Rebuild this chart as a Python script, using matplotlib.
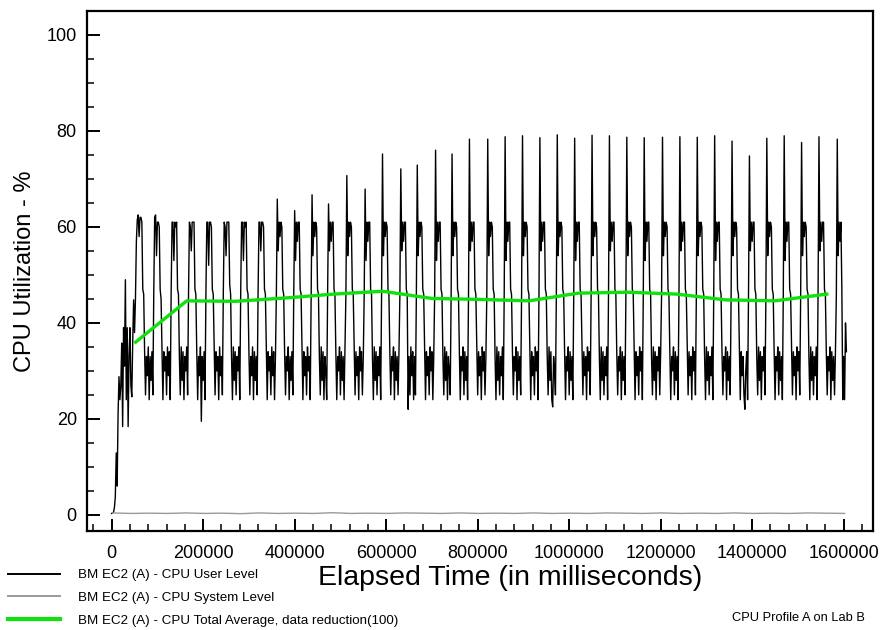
import numpy as np
import matplotlib
matplotlib.use("Agg")
import matplotlib.pyplot as plt
from matplotlib.ticker import MultipleLocator
from matplotlib import font_manager

_names = {f.name for f in font_manager.fontManager.ttflist}
plt.rcParams["font.family"] = [n for n in ["Liberation Sans Narrow", "Liberation Sans", "DejaVu Sans"] if n in _names]

# ---------------- data ----------------
sample_ms = 2000  # sampling interval of the CPU user level series

# CPU user level (%), one sample every 2 s, starting at t = 0 (one row per load cycle)
user_cpu = [
    0.3, 0.4, 0.5, 1.5, 3.8, 12.9, 6.0, 21.0, 28.8, 24.0, 27.0, 35.8, 18.4, 39.0,
    31.0, 49.0, 24.0, 39.0, 18.4, 33.0, 39.0, 27.0, 24.6, 36.0, 44.8, 38.0, 45.0, 57.0,
    61.5, 62.5, 58, 62, 62, 61, 47, 46, 34, 25, 33, 29, 35, 24, 33, 28, 34, 25, 46,
    62, 62.5, 54, 61, 61, 60, 47, 45, 35, 24, 34, 30, 33, 25, 35, 29, 34, 24, 46,
    61, 61, 53, 61, 60, 61, 47, 46, 33, 25, 35, 28, 34, 24, 33, 30, 35, 25, 46,
    61, 60, 55, 61, 61, 61, 47, 46, 34, 24, 33, 29, 35, 19.5, 33, 28, 34, 24, 46,
    61, 61, 52, 61, 61, 60, 47, 46, 35, 25, 34, 30, 33, 24, 35, 29, 33, 25, 46,
    61, 60, 54, 61, 61, 61, 48, 46, 33, 24, 35, 28, 34, 25, 33, 30, 35, 24, 46,
    61, 61, 53, 61, 60, 61, 47, 46, 34, 25, 33, 29, 35, 24, 34, 28, 33, 25, 46,
    61, 61, 55, 61, 61, 60, 47, 46, 35, 24, 34, 30, 33, 25, 35, 29, 34, 24, 33, 46,
    65.8, 55, 61, 58, 61, 60, 47, 46, 34, 25, 33, 30, 35, 24, 33, 28, 34, 25, 46,
    63.4, 53, 61, 57, 61, 61, 47, 46, 35, 24, 34, 29, 33, 25, 35, 30, 33, 24, 46,
    66.7, 54, 61, 58, 61, 60, 47, 46, 33, 25, 35, 28, 34, 24, 33, 30, 24, 46,
    64.8, 55, 61, 57, 61, 61, 47, 46, 34, 24, 33, 30, 35, 25, 34, 28, 33, 24, 35, 46,
    70.7, 54, 61, 58, 61, 60, 47, 46, 35, 25, 34, 29, 33, 24, 35, 30, 34, 25, 33, 46,
    67.9, 53, 61, 57, 61, 61, 47, 46, 33, 24, 35, 28, 34, 25, 33, 29, 35, 24, 46,
    75.2, 54, 61, 58, 61, 60, 47, 46, 34, 25, 33, 30, 35, 24, 34, 28, 33, 25, 34, 46,
    72.1, 55, 61, 57, 61, 61, 47, 46, 22, 33, 25, 35, 29, 34, 24, 33, 25, 46,
    72.9, 54, 61, 58, 61, 60, 47, 46, 35, 24, 34, 29, 33, 25, 35, 30, 34, 24, 33, 46,
    76.0, 53, 61, 57, 61, 61, 47, 46, 33, 25, 35, 28, 34, 24, 33, 30, 25, 46,
    75.2, 54, 61, 58, 61, 60, 47, 46, 34, 24, 33, 30, 35, 25, 34, 28, 33, 24, 46,
    78.3, 55, 61, 57, 61, 61, 47, 46, 35, 25, 34, 29, 33, 24, 35, 30, 34, 25, 33, 46,
    78.3, 54, 61, 58, 61, 60, 47, 46, 33, 24, 35, 28, 34, 25, 33, 29, 35, 24, 46,
    78.8, 53, 61, 57, 61, 61, 47, 46, 34, 25, 33, 30, 35, 24, 34, 28, 33, 25, 46,
    79.0, 54, 61, 58, 61, 60, 47, 46, 35, 24, 34, 29, 33, 25, 35, 30, 34, 24, 46,
    78.6, 55, 61, 57, 61, 61, 47, 46, 33, 25, 35, 28, 34, 24, 22.5, 33, 30, 25, 46,
    79.2, 54, 61, 58, 61, 60, 47, 46, 34, 24, 33, 30, 35, 25, 34, 28, 33, 24, 46,
    78.5, 53, 61, 57, 61, 61, 47, 46, 35, 25, 34, 29, 33, 24, 35, 30, 34, 25, 46,
    79.1, 54, 61, 58, 61, 60, 47, 46, 33, 24, 35, 28, 34, 25, 33, 29, 35, 24, 46,
    79.0, 55, 61, 57, 61, 61, 47, 46, 34, 25, 33, 30, 35, 24, 34, 28, 33, 25, 46,
    78.7, 54, 61, 58, 61, 60, 47, 46, 35, 24, 34, 29, 33, 25, 35, 30, 34, 24, 46,
    78.6, 53, 61, 57, 61, 61, 47, 46, 33, 25, 35, 28, 34, 24, 33, 30, 35, 25, 34, 46,
    78.7, 54, 61, 58, 61, 60, 47, 46, 34, 24, 33, 30, 35, 25, 34, 28, 33, 24, 46,
    78.8, 55, 61, 57, 61, 61, 47, 46, 35, 25, 34, 29, 33, 24, 35, 30, 34, 25, 46,
    78.7, 54, 61, 58, 61, 60, 47, 46, 33, 24, 35, 28, 34, 25, 33, 29, 35, 24, 46,
    79.0, 53, 61, 57, 61, 61, 47, 46, 34, 25, 33, 30, 35, 24, 34, 28, 33, 25, 46,
    77.9, 54, 61, 58, 61, 60, 47, 46, 35, 24, 34, 29, 33, 25, 22, 30, 34, 24, 46,
    74.8, 55, 61, 57, 61, 61, 47, 46, 33, 25, 35, 28, 34, 24, 33, 30, 35, 25, 46,
    78.5, 54, 61, 58, 61, 60, 47, 46, 34, 24, 33, 30, 35, 25, 34, 28, 33, 24, 46,
    79.0, 53, 61, 57, 61, 61, 47, 46, 35, 25, 34, 29, 33, 24, 35, 30, 34, 25, 46,
    77.6, 54, 61, 58, 61, 60, 47, 46, 33, 24, 35, 28, 34, 25, 33, 29, 35, 24, 46,
    78.8, 55, 61, 57, 61, 61, 47, 46, 34, 25, 33, 30, 35, 24, 34, 28, 33, 25, 34, 46,
    78.3, 54, 61, 57, 61, 47, 24, 33, 24, 40, 34,
]

# CPU system level (%), one value every 40 s
system_step_ms = 40000
system_cpu = [
    0.4, 0.3, 0.35, 0.3, 0.4, 0.3, 0.35, 0.25, 0.4, 0.3, 0.35, 0.3, 0.45, 0.3,
    0.35, 0.3, 0.4, 0.35, 0.3, 0.4, 0.3, 0.35, 0.3, 0.4, 0.3, 0.35, 0.3, 0.4,
    0.35, 0.3, 0.4, 0.3, 0.35, 0.3, 0.4, 0.3, 0.35, 0.3, 0.4, 0.35, 0.3,
]

# CPU total average (data reduction 100)
avg_time_ms = [52500, 164000, 270000, 380000, 485000, 592000, 700000, 805000,
               912000, 1020000, 1128000, 1235000, 1342000, 1450000, 1563000]
avg_cpu = [36.0, 44.6, 44.5, 45.2, 46.0, 46.6, 45.1, 44.9,
           44.6, 46.2, 46.4, 46.0, 44.8, 44.6, 46.0]

x_ticks = [0, 200000, 400000, 600000, 800000, 1000000, 1200000, 1400000, 1600000]
y_ticks = [0, 20, 40, 60, 80, 100]

series_labels = [
    "BM EC2 (A) - CPU User Level",
    "BM EC2 (A) - CPU System Level",
    "BM EC2 (A) - CPU Total Average, data reduction(100)",
]

# ---------------- plot ----------------
fig = plt.figure(figsize=(8.83, 6.3), dpi=100)
ax = fig.add_axes([86.5 / 883, 1 - 530.7 / 630, 786 / 883, 519.7 / 630])

user_t = np.arange(len(user_cpu)) * sample_ms
sys_t = np.arange(len(system_cpu)) * system_step_ms + 2000

l1, = ax.plot(user_t, user_cpu, color="black", lw=1.0, label=series_labels[0])
l2, = ax.plot(sys_t, system_cpu, color="#9a9a9a", lw=1.0, label=series_labels[1])
l3, = ax.plot(avg_time_ms, avg_cpu, color="#10e010", lw=2.4, label=series_labels[2])

ax.set_xlim(-55000, 1663000)
ax.set_ylim(-3.3, 105)

ax.set_xticks(x_ticks)
ax.set_xticklabels([str(v) for v in x_ticks])
ax.set_yticks(y_ticks)
ax.set_yticklabels([str(v) for v in y_ticks])
ax.xaxis.set_minor_locator(MultipleLocator(40000))
ax.yaxis.set_minor_locator(MultipleLocator(5))

ax.tick_params(which="major", direction="in", length=9, width=1.4, labelsize=13, pad=7)
ax.tick_params(which="minor", direction="in", length=5, width=1.1)
ax.tick_params(axis="x", which="major", pad=10)
for s in ax.spines.values():
    s.set_linewidth(1.6)

ax.set_ylabel("CPU Utilization - %", fontsize=17, va="center")
ax.yaxis.set_label_coords(-0.078, 0.5)
ax.set_xlabel("Elapsed Time (in milliseconds)", fontsize=20.5, va="center")
ax.xaxis.set_label_coords(0.539, -0.091)

leg = fig.legend(handles=[l1, l2, l3], loc="upper left",
                 bbox_to_anchor=(8 / 883, 1 - 569 / 630), frameon=False,
                 fontsize=9.6, handlelength=3.9, handletextpad=1.35,
                 labelspacing=0.78, borderpad=0, borderaxespad=0)
leg.get_lines()[0].set_linewidth(1.4)
leg.get_lines()[1].set_linewidth(1.4)
leg.get_lines()[2].set_linewidth(3.0)

fig.text(865 / 883, 1 - 618 / 630, "CPU Profile A on Lab B", ha="right", va="center", fontsize=9.3)

fig.savefig("out.png", dpi=100)
